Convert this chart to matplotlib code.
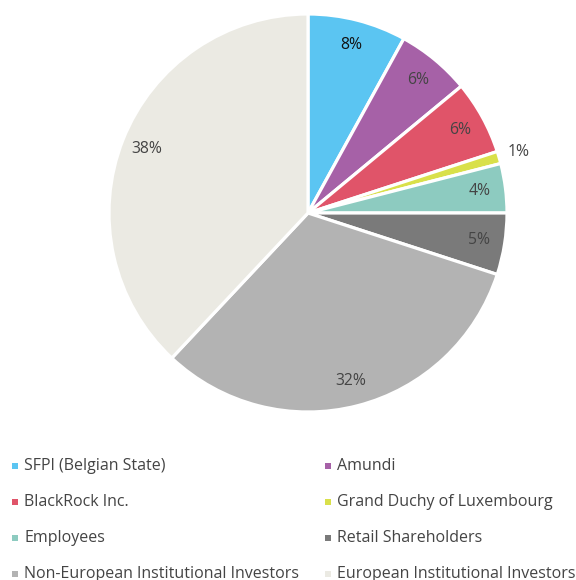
import matplotlib
matplotlib.use("Agg")
import matplotlib.pyplot as plt
from matplotlib.patches import Rectangle
import math

categories = ["SFPI (Belgian State)", "Amundi", "BlackRock Inc.", "Grand Duchy of Luxembourg",
              "Employees", "Retail Shareholders", "Non-European Institutional Investors",
              "European Institutional Investors"]
values = [8, 6, 6, 1, 4, 5, 32, 38]
colors = ["#5BC5F2", "#A661A7", "#E05469", "#D9E04A", "#8DCBC0", "#7A7A7A", "#B3B3B3", "#EBEAE3"]
label_colors = ["#111111", "#444444", "#444444", "#444444", "#444444", "#444444", "#444444", "#444444"]

plt.rcParams['font.family'] = ['Open Sans', 'DejaVu Sans']

W, H = 576, 580
fig = plt.figure(figsize=(W / 100, H / 100), dpi=100)
fig.patch.set_facecolor("white")

cx, cy, r = 308, 213, 199
ax = fig.add_axes([(cx - r) / W, (H - cy - r) / H, 2 * r / W, 2 * r / H])
wedges, texts = ax.pie(values, colors=colors, startangle=90, counterclock=False,
                       wedgeprops=dict(edgecolor="white", linewidth=2.3),
                       labels=None, radius=1.0)
ax.set_xlim(-1, 1)
ax.set_ylim(-1, 1)
ax.set_aspect("equal")
ax.axis("off")

total = sum(values)
ang = 90.0
for i, v in enumerate(values):
    span = 360.0 * v / total
    mid = math.radians(ang - span / 2)
    ang -= span
    rr = 1.1 if v < 2 else 0.87
    ax.text(rr * math.cos(mid), rr * math.sin(mid), f"{v:.0f}%", ha="center", va="center",
            fontsize=11.3, color=label_colors[i])

# legend (two columns, row-wise)
col_x = [15, 328]
row_y = [466, 502, 538, 574]
for i, (lab, c) in enumerate(zip(categories, colors)):
    x = col_x[i % 2]
    y = row_y[i // 2]
    fig.patches.append(Rectangle(((x - 3) / W, (H - y - 3) / H), 6 / W, 6 / H,
                                 transform=fig.transFigure, facecolor=c, edgecolor="none"))
    fig.text((x + 9) / W, (H - y) / H, lab, ha="left", va="center", fontsize=11.5, color="#444444")

fig.savefig("out.png", dpi=100, facecolor="white")
